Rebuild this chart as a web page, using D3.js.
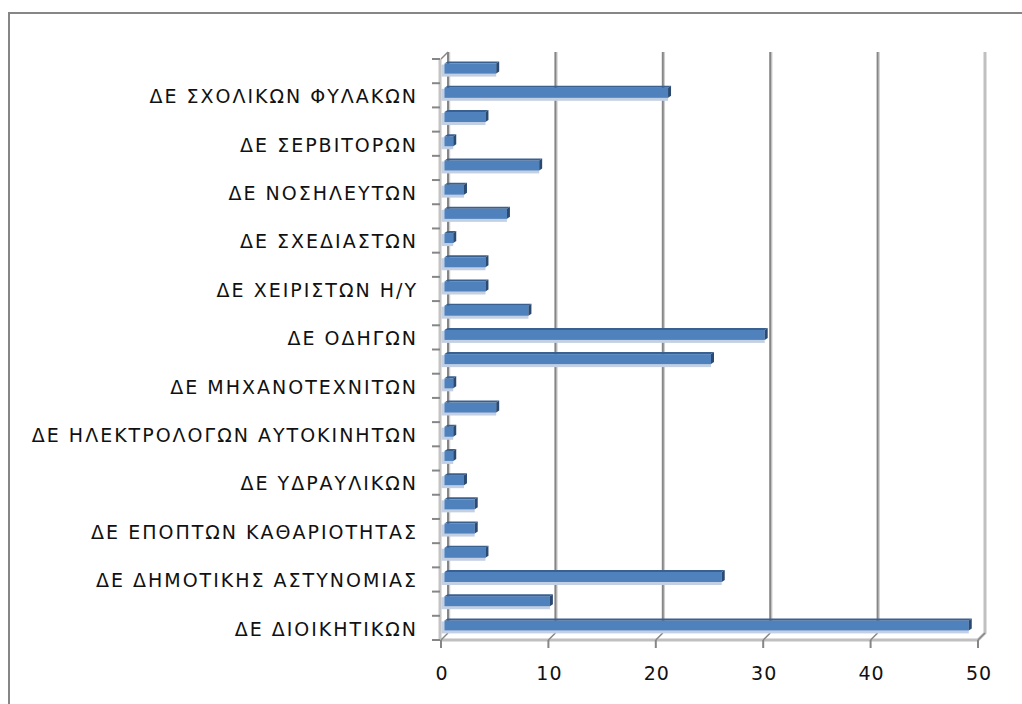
<!DOCTYPE html>
<html>
<head>
<meta charset="utf-8">
<script src="https://cdn.jsdelivr.net/npm/d3@7"></script>
<style>
  body { margin: 0; background: #fff; }
  svg { display: block; }
</style>
</head>
<body>
<div id="chart"></div>
<script>
// Categories from top to bottom (empty = label skipped in the original axis)
const labels = [
  "", "ΔΕ ΣΧΟΛΙΚΩΝ ΦΥΛΑΚΩΝ",
  "", "ΔΕ ΣΕΡΒΙΤΟΡΩΝ",
  "", "ΔΕ ΝΟΣΗΛΕΥΤΩΝ",
  "", "ΔΕ ΣΧΕΔΙΑΣΤΩΝ",
  "", "ΔΕ ΧΕΙΡΙΣΤΩΝ Η/Υ",
  "", "ΔΕ ΟΔΗΓΩΝ",
  "", "ΔΕ ΜΗΧΑΝΟΤΕΧΝΙΤΩΝ",
  "", "ΔΕ ΗΛΕΚΤΡΟΛΟΓΩΝ ΑΥΤΟΚΙΝΗΤΩΝ",
  "", "ΔΕ ΥΔΡΑΥΛΙΚΩΝ",
  "", "ΔΕ ΕΠΟΠΤΩΝ ΚΑΘΑΡΙΟΤΗΤΑΣ",
  "", "ΔΕ ΔΗΜΟΤΙΚΗΣ ΑΣΤΥΝΟΜΙΑΣ",
  "", "ΔΕ ΔΙΟΙΚΗΤΙΚΩΝ"
];
const values = [5, 21, 4, 1, 9, 2, 6, 1, 4, 4, 8, 30, 25, 1, 5, 1, 1, 2, 3, 3, 4, 26, 10, 49];
const xTicks = [0, 10, 20, 30, 40, 50];

const W = 1022, H = 704;
const depth = 7; // 3D offset of the back wall
const front = { left: 441, right: 978, top: 59, bottom: 640 };

const svg = d3.select("#chart").append("svg")
  .attr("width", W).attr("height", H);

// outer frame (only top/left visible)
svg.append("path")
  .attr("d", `M9,${H} L9,13 L${W},13`)
  .attr("fill", "none").attr("stroke", "#868686").attr("stroke-width", 2);

const x = d3.scaleLinear().domain([0, 50]).range([front.left, front.right]);
const y = d3.scaleBand().domain(d3.range(labels.length))
  .range([front.top, front.bottom]).paddingInner(0).paddingOuter(0);

// back wall gridlines
xTicks.forEach(v => {
  const gx = x(v) + depth;
  if (v === 50) return;
  svg.append("line")
    .attr("x1", gx + 1.5).attr("x2", gx + 1.5)
    .attr("y1", front.top - depth).attr("y2", front.bottom - depth)
    .attr("stroke", "#cfcfcf").attr("stroke-width", 1.5);
  svg.append("line")
    .attr("x1", gx).attr("x2", gx)
    .attr("y1", front.top - depth).attr("y2", front.bottom - depth)
    .attr("stroke", "#868686").attr("stroke-width", 2);
});

// right wall edge
svg.append("path")
  .attr("d", `M${x(50) + depth},${front.top - depth} L${x(50) + depth},${front.bottom - depth} L${x(50)},${front.bottom}`)
  .attr("fill", "none").attr("stroke", "#c0c0c0").attr("stroke-width", 3);

// left wall (front edge)
svg.append("path")
  .attr("d", `M${x(0) - 1},${front.top} L${x(0) - 1},${front.bottom}`)
  .attr("fill", "none").attr("stroke", "#c4c4c4").attr("stroke-width", 3);
svg.append("line")
  .attr("x1", x(0)).attr("x2", x(0) + depth)
  .attr("y1", front.top).attr("y2", front.top - depth)
  .attr("stroke", "#868686").attr("stroke-width", 1.5);

// floor
svg.append("line")
  .attr("x1", x(0)).attr("x2", x(50) + 1)
  .attr("y1", front.bottom).attr("y2", front.bottom)
  .attr("stroke", "#c0c0c0").attr("stroke-width", 3);

// x axis ticks + connectors to back wall
const xAxis = svg.append("g");
xTicks.forEach(v => {
  xAxis.append("line")
    .attr("x1", x(v)).attr("x2", x(v) + depth)
    .attr("y1", front.bottom).attr("y2", front.bottom - depth)
    .attr("stroke", "#868686").attr("stroke-width", 1.5);
  xAxis.append("line")
    .attr("x1", x(v)).attr("x2", x(v))
    .attr("y1", front.bottom).attr("y2", front.bottom + 8)
    .attr("stroke", "#868686").attr("stroke-width", 2);
  xAxis.append("text")
    .attr("x", x(v) + 1).attr("y", front.bottom + 40)
    .attr("text-anchor", "middle")
    .style("font-family", "DejaVu Sans, sans-serif")
    .style("font-size", "19px")
    .style("letter-spacing", "1px")
    .attr("fill", "#111")
    .text(v);
});

// category ticks
d3.range(labels.length + 1).forEach(i => {
  const ty = front.top + i * y.step();
  svg.append("line")
    .attr("x1", front.left - 9).attr("x2", front.left - 1)
    .attr("y1", ty).attr("y2", ty)
    .attr("stroke", "#868686").attr("stroke-width", 2);
});

// category labels (wide spacing like the original)
svg.append("g").selectAll("text")
  .data(labels)
  .join("text")
  .attr("x", 418)
  .attr("y", (d, i) => y(i) + y.bandwidth() / 2 + 1)
  .attr("dy", "0.36em")
  .attr("text-anchor", "end")
  .style("font-family", "DejaVu Sans, sans-serif")
  .style("font-size", "19px")
  .style("letter-spacing", "2px")
  .attr("fill", "#111")
  .text(d => d);

// bars, drawn half way into the depth
const half = depth / 2;
const xb = v => x(v) + half;
const bars = svg.append("g");
values.forEach((v, i) => {
  const cy = y(i) + y.bandwidth() / 2 - half;
  const x0 = xb(0), x1 = xb(v);
  const top = cy - 4, bot = cy + 6, d = 3;
  // soft shadow
  bars.append("rect")
    .attr("x", x0 - 3).attr("y", top + 1)
    .attr("width", Math.max(0, x1 - x0 + 1)).attr("height", bot - top + 2)
    .attr("fill", "#c3d0e4");
  // front face
  bars.append("rect")
    .attr("x", x0).attr("y", top)
    .attr("width", Math.max(0, x1 - x0 - 2)).attr("height", bot - top)
    .attr("fill", "#4f81bd");
  // top face
  bars.append("path")
    .attr("d", `M${x0},${top} L${x1 - 2},${top} L${x1 + 1},${top - d + 1} L${x0 + 3},${top - d + 1} Z`)
    .attr("fill", "#3a6090");
  // end face
  bars.append("path")
    .attr("d", `M${x1 - 2},${top} L${x1 + 1},${top - d + 1} L${x1 + 1},${bot - d + 1} L${x1 - 2},${bot} Z`)
    .attr("fill", "#2b4a72");
});
</script>
</body>
</html>
